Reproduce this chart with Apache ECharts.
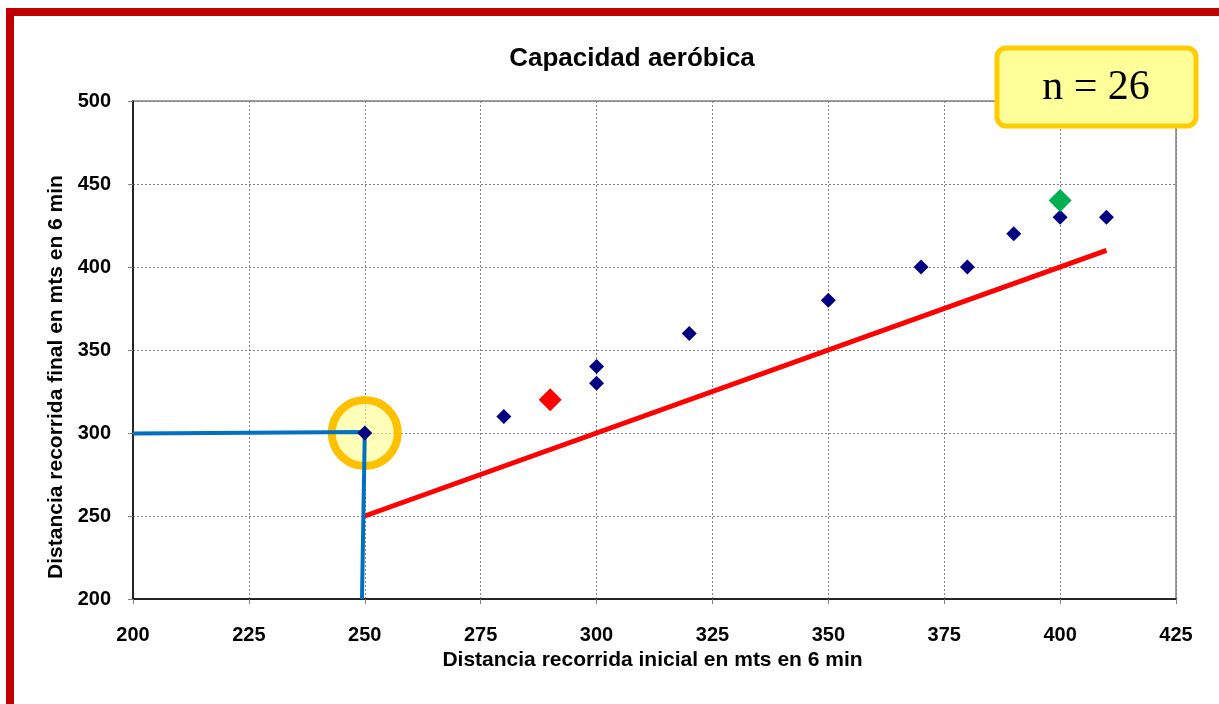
<!DOCTYPE html>
<html><head><meta charset="utf-8">
<script src="https://cdn.jsdelivr.net/npm/echarts@6/dist/echarts.min.js"></script>
<style>html,body{margin:0;padding:0;background:#fff}#c{width:1219px;height:704px}</style>
</head><body><div id="c"></div>
<script>
const titleText = 'Capacidad aeróbica';
const xAxisName = 'Distancia recorrida inicial en mts en 6 min';
const yAxisName = 'Distancia recorrida final en mts en 6 min';
const nLabel = 'n = 26';
const xTicks = [200, 225, 250, 275, 300, 325, 350, 375, 400, 425];
const yTicks = [200, 250, 300, 350, 400, 450, 500];
const bluePoints = [[250,300],[280,310],[300,330],[300,340],[320,360],[350,380],[370,400],[380,400],[390,420],[400,430],[410,430]];
const redPoint = [[290,320]];
const greenPoint = [[400,440]];
const redLine = [[250,250],[410,410]];
const blueGuide = [[200,299.7],[250,300.6],[249.4,200]];
const highlight = [[250,300]];

const chart = echarts.init(document.getElementById('c'));
const font = '"Liberation Sans", Arial, sans-serif';
chart.setOption({
  animation: false,
  backgroundColor: '#fff',
  title: {text: titleText, left: 627, top: 41, textAlign: 'center',
    textStyle: {fontFamily: font, fontSize: 26, fontWeight: 'bold', color: '#000'}},
  grid: {left: 133, right: 43, top: 101, bottom: 105, show: true, borderColor: '#808080', borderWidth: 1.5, backgroundColor: 'transparent'},
  xAxis: {type: 'value', min: xTicks[0], max: xTicks[xTicks.length-1], interval: 25,
    name: xAxisName, nameLocation: 'middle', nameGap: 51,
    nameTextStyle: {fontFamily: font, fontSize: 21, fontWeight: 'bold', color: '#000', padding: [0, 4, 0, 0]},
    axisLine: {show: true, lineStyle: {color: '#000', width: 1.5}},
    axisTick: {show: true, inside: false, length: 5, lineStyle: {color: '#808080'}},
    axisLabel: {fontFamily: font, fontSize: 20, fontWeight: 'bold', color: '#000', margin: 26},
    splitLine: {show: true, lineStyle: {color: '#808080', type: [2,2], width: 1}}},
  yAxis: {type: 'value', min: yTicks[0], max: yTicks[yTicks.length-1], interval: 50,
    name: yAxisName, nameLocation: 'middle', nameGap: 65, nameRotate: 90,
    nameTextStyle: {fontFamily: font, fontSize: 21, fontWeight: 'bold', color: '#000', padding: [0, 54, 0, 0]},
    axisLine: {show: true, lineStyle: {color: '#000', width: 1.5}},
    axisTick: {show: true, inside: false, length: 5, lineStyle: {color: '#808080'}},
    axisLabel: {fontFamily: font, fontSize: 20, fontWeight: 'bold', color: '#000', margin: 22},
    splitLine: {show: true, lineStyle: {color: '#808080', type: [2,2], width: 1}}},
  series: [
    {type: 'line', data: redLine, symbol: 'none', lineStyle: {color: '#FF0000', width: 5}, z: 3},
    {type: 'scatter', data: highlight, symbol: 'circle', symbolSize: 66,
      itemStyle: {color: 'rgba(255,255,140,0.6)', borderColor: '#FFC000', borderWidth: 8, opacity: 1}, z: 2},
    {type: 'line', data: blueGuide, symbol: 'none', lineStyle: {color: '#0070C0', width: 4}, z: 4},
    {type: 'scatter', data: bluePoints, symbol: 'diamond', symbolSize: 15, itemStyle: {color: '#000080', opacity: 1}, z: 5},
    {type: 'scatter', data: redPoint, symbol: 'diamond', symbolSize: 23, itemStyle: {color: '#FF0000', opacity: 1}, z: 5},
    {type: 'scatter', data: greenPoint, symbol: 'diamond', symbolSize: 23, itemStyle: {color: '#00B050', opacity: 1}, z: 5}
  ],
  graphic: [
    {type: 'rect', shape: {x: 10, y: 12, width: 1400, height: 900}, style: {fill: 'none', stroke: '#C00000', lineWidth: 8}, z: 10},
    {type: 'rect', shape: {x: 997, y: 48, width: 199, height: 78, r: 9}, style: {fill: '#FFFF99', stroke: '#FFCC00', lineWidth: 5}, z: 10},
    {type: 'text', x: 1096, y: 88, style: {text: nLabel, font: '42px "Liberation Serif", "Times New Roman", serif', fill: '#000', textAlign: 'center', textVerticalAlign: 'middle'}, z: 11}
  ]
});
</script></body></html>
